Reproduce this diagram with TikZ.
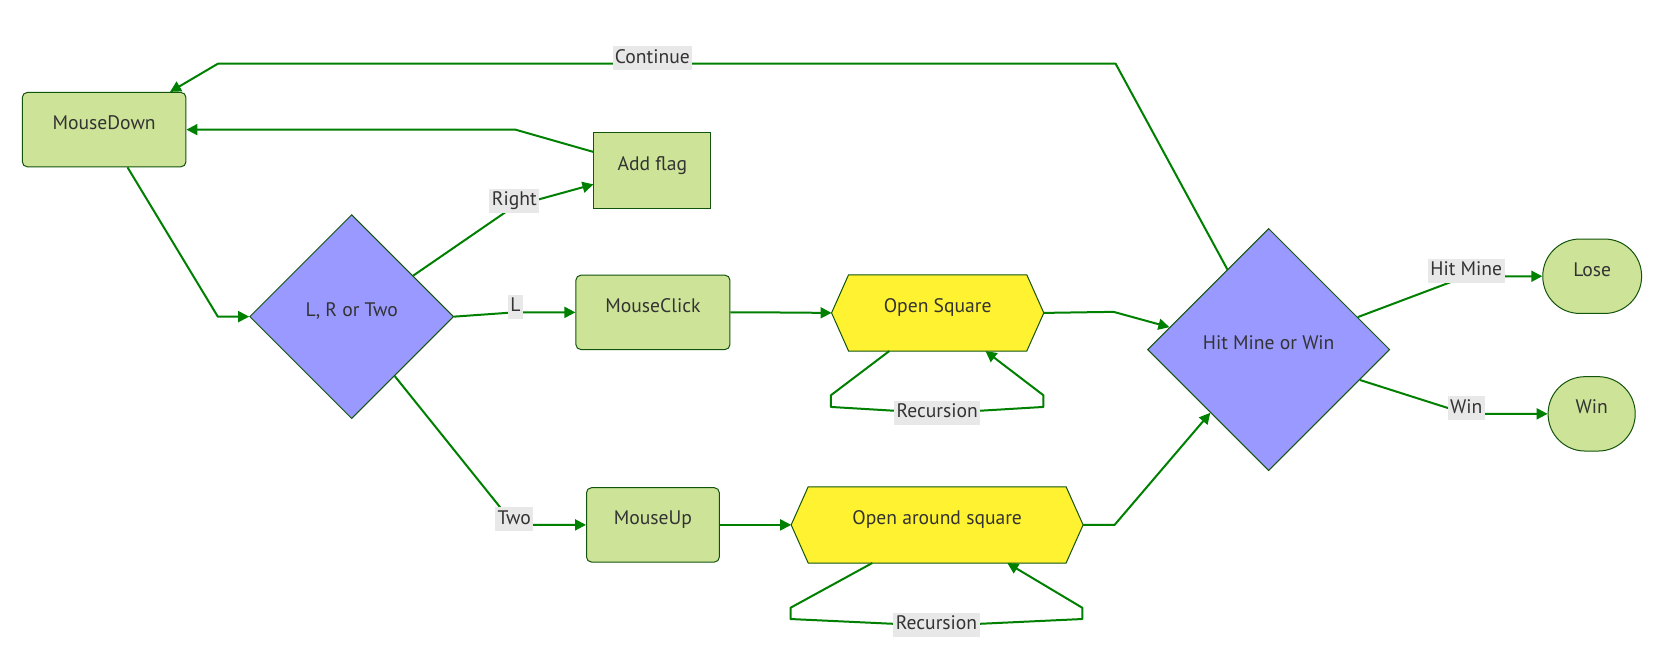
\documentclass[tikz,border=0pt]{standalone}
\usepackage{fontspec}
\setmainfont{PT Sans}
\usetikzlibrary{arrows.meta,shapes.geometric,calc,backgrounds}
\definecolor{edgecol}{HTML}{008000}
\definecolor{nodefill}{HTML}{CDE498}
\definecolor{nodeborder}{HTML}{13540C}
\definecolor{decfill}{HTML}{9999FF}
\definecolor{hexfill}{HTML}{FFF230}
\definecolor{lblfill}{HTML}{E8E8E8}
\definecolor{txt}{HTML}{333333}
\tikzset{
  base/.style={text=txt, inner sep=0pt, font=\fontsize{9.8}{11.5}\selectfont},
  raised/.style={text height=7.2pt, text depth=7.2pt},
  procbox/.style={base, raised, draw=nodeborder, fill=nodefill, line width=0.5pt, rounded corners=2.5pt},
  flagbox/.style={base, raised, draw=nodeborder, fill=nodefill, line width=0.5pt},
  decision/.style={base, raised, diamond, aspect=1, draw=nodeborder, fill=decfill, line width=0.5pt},
  hexnode/.style={base, raised, rectangle},
  hexdraw/.style={draw=nodeborder, fill=hexfill, line width=0.5pt, line join=miter},
  endbox/.style={base, raised, draw=nodeborder, fill=nodefill, line width=0.5pt, rounded corners=18.5pt},
  lbl/.style={base, fill=lblfill, inner sep=1.2pt, text height=7.3pt, text depth=2.3pt},
  edgeline/.style={draw=edgecol, line width=1pt, line join=round, -{Triangle[length=5.5pt,width=5.5pt]}},
  loopline/.style={draw=edgecol, line width=1pt, line join=round, -{Triangle[length=5.5pt,width=5.5pt]}}
}
\begin{document}
\begin{tikzpicture}[x=0.53125pt,y=-0.53125pt]
\useasboundingbox (0,0) rectangle (1564.2,627.8);

% nodes
\node[procbox, minimum width=81.81pt, minimum height=37.19pt] (md) at (98,122) {MouseDown};
\node[flagbox, minimum width=58.44pt, minimum height=37.72pt] (af) at (614,160.5) {Add flag};
\node[decision, minimum width=102pt, minimum height=102pt] (lr) at (331,298) {L, R or Two};
\node[procbox, minimum width=77.03pt, minimum height=37.19pt] (mc) at (614.5,294) {MouseClick};
\node[procbox, minimum width=66.41pt, minimum height=37.19pt] (mu) at (614.5,494) {MouseUp};
\node[hexnode, minimum width=105.72pt, minimum height=37.72pt] (os) at (882.5,294.5) {Open Square};
\node[hexnode, minimum width=145.56pt, minimum height=37.72pt] (oa) at (882,494) {Open around square};
\node[decision, minimum width=121.1pt, minimum height=121.1pt] (hm) at (1194,329) {Hit Mine or Win};
\node[endbox, minimum width=49.41pt, minimum height=37.19pt] (lo) at (1498.5,260) {Lose};
\node[endbox, minimum width=43.56pt, minimum height=37.19pt] (wi) at (1498,389.5) {Win};

\begin{scope}[on background layer]
\draw[hexdraw] (os.west) -- ($(os.north west)+(16,0)$) -- ($(os.north east)+(-16,0)$) -- (os.east)
  -- ($(os.south east)+(-16,0)$) -- ($(os.south west)+(16,0)$) -- cycle;
\draw[hexdraw] (oa.west) -- ($(oa.north west)+(16,0)$) -- ($(oa.north east)+(-16,0)$) -- (oa.east)
  -- ($(oa.south east)+(-16,0)$) -- ($(oa.south west)+(16,0)$) -- cycle;
\end{scope}

% edges
\draw[edgeline] ($(hm.north)!0.34!(hm.west)$) -- (1050,60) -- (205,60) -- ($(md.north)+(62,0)$);
\draw[edgeline] ($(af.west)+(0,-17.5)$) -- (485,122) -- (md.east);
\draw[edgeline] ($(md.south)+(22,0)$) -- (205,298) -- (lr.west);
\draw[edgeline] ($(lr.north)!0.6!(lr.east)$) -- (484,194) -- ($(af.west)+(0,13)$);
\draw[edgeline] (lr.east) -- (484,294) -- (mc.west);
\draw[edgeline] ($(lr.east)!0.58!(lr.south)$) -- (484,494) -- (mu.west);
\draw[edgeline] (mc.east) -- (720,294) -- (os.west);
\draw[loopline] ($(os.south)+(-45.5,0)$) -- (782,372) -- (782,383) -- (882,389) -- (982,383) -- (982,372) -- ($(os.south)+(45,0)$);
\draw[edgeline] (os.east) -- (1048,293.5) -- ($(hm.west)!0.184!(hm.north)$);
\draw[edgeline] (mu.east) -- (oa.west);
\draw[loopline] ($(oa.south)+(-61,0)$) -- (744,572) -- (744,582.6) -- (881.5,589) -- (1018.6,582.6) -- (1018.6,572) -- ($(oa.south)+(66,0)$);
\draw[edgeline] (oa.east) -- (1049,494) -- ($(hm.west)!0.52!(hm.south)$);
\draw[edgeline] ($(hm.north)!0.733!(hm.east)$) -- (1380,260) -- (lo.west);
\draw[edgeline] ($(hm.east)!0.25!(hm.south)$) -- (1380,389.5) -- (wi.west);

% edge labels
\node[lbl] (lcont) at (614,55) {Continue};
\node[lbl] (lright) at (484,189) {Right};
\node[lbl] (ll) at (485,288.5) {L};
\node[lbl] (ltwo) at (484,488.5) {Two};
\node[lbl] (lrec1) at (882,388.3) {Recursion};
\node[lbl] (lrec2) at (881.4,588.2) {Recursion};
\node[lbl] (lhit) at (1380,255) {Hit Mine};
\node[lbl] (lwin) at (1380,384) {Win};
\end{tikzpicture}
\end{document}
